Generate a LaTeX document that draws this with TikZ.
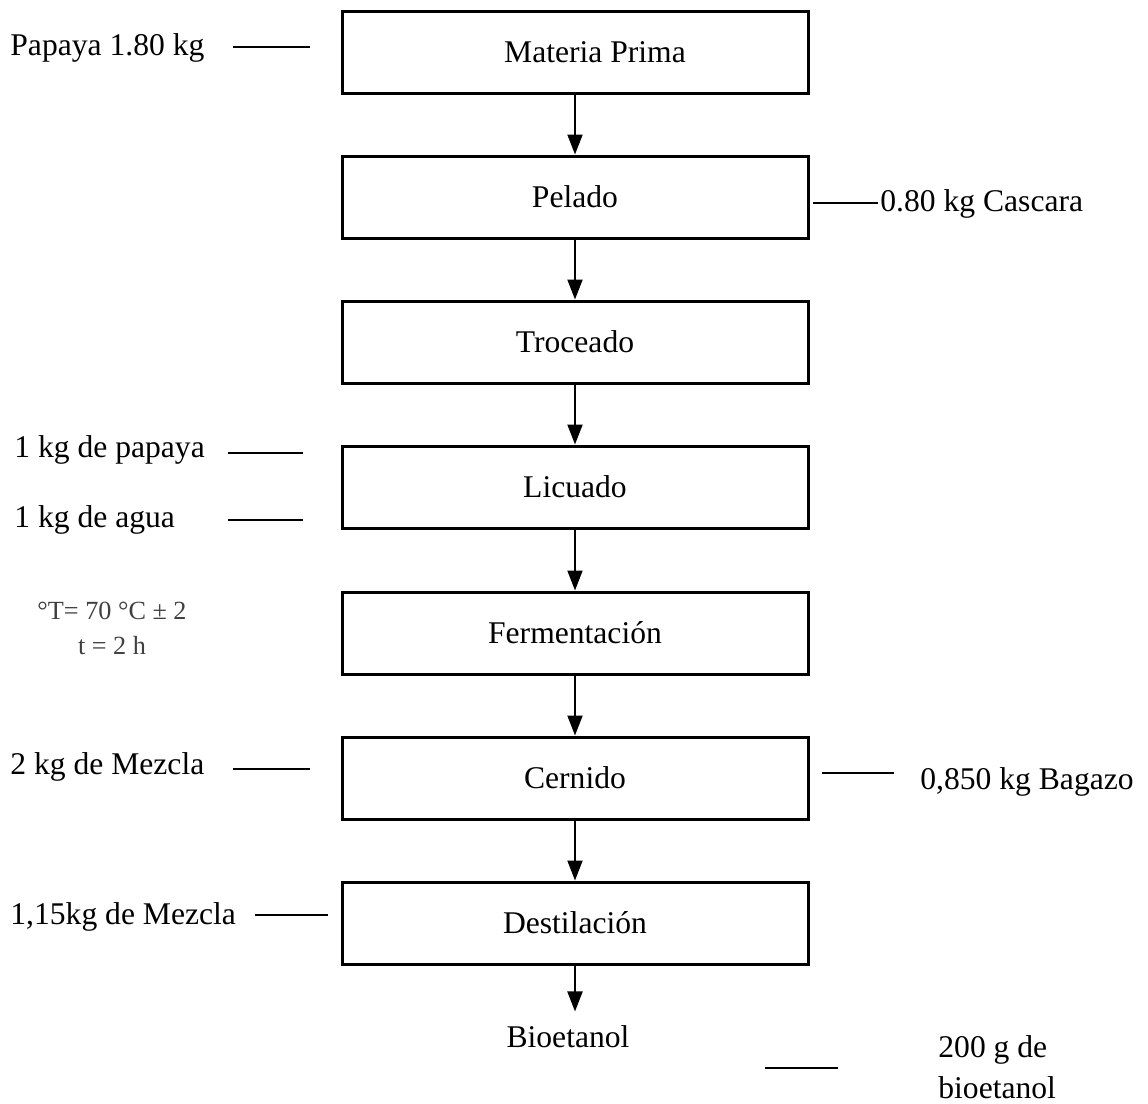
\documentclass[tikz,border=0pt]{standalone}
\usepackage{fontspec}
\setmainfont{Liberation Serif}
\usetikzlibrary{arrows.meta,positioning}

\begin{document}
\begin{tikzpicture}[x=0.5pt,y=-0.5pt,
	etapa/.style={draw,line width=1.5pt,minimum width=233pt,minimum height=41pt,inner sep=0pt,font=\fontsize{15.8}{19}\selectfont},
	flujo/.style={-{Triangle[length=10pt,width=7.5pt]},line width=1pt},
	dato/.style={font=\fontsize{15.8}{19}\selectfont,inner sep=0pt,anchor=west},
	raya/.style={line width=0.7pt}]
	\useasboundingbox (0,0) rectangle (1148,1104);
	% etapas del proceso
	\node[etapa] (materia) at (575,52) {\hspace*{20pt}Materia Prima};
	\node[etapa] (pelado) at (575,197) {Pelado};
	\node[etapa] (troceado) at (575,342) {Troceado};
	\node[etapa] (licuado) at (575,487) {Licuado};
	\node[etapa] (fermentacion) at (575,633) {Fermentación};
	\node[etapa] (cernido) at (575,778) {Cernido};
	\node[etapa] (destilacion) at (575,923) {Destilación};
	\node[font=\fontsize{15.8}{19}\selectfont,inner ysep=7pt] (bioetanol) at (568,1037) {Bioetanol};
	\draw[flujo] (materia) -- (pelado);
	\draw[flujo] (pelado) -- (troceado);
	\draw[flujo] (troceado) -- (licuado);
	\draw[flujo] (licuado) -- (fermentacion);
	\draw[flujo] (fermentacion) -- (cernido);
	\draw[flujo] (cernido) -- (destilacion);
	\draw[flujo] (destilacion.south) -- (destilacion.south |- bioetanol.north);
	% entradas y salidas
	\node[dato] (papaya) at (10,48) {Papaya 1.80 kg};
	\node[dato] (cascara) at (880,204) {0.80 kg Cascara};
	\node[dato] (papayaliq) at (14,450) {1 kg de papaya};
	\node[dato] (agua) at (14,520) {1 kg de agua};
	\node[dato] (mezcla) at (10,767) {2 kg de Mezcla};
	\node[dato] (bagazo) at (920,782) {0,850 kg Bagazo};
	\node[dato] (mezclados) at (10,917) {1,15kg de Mezcla};
	\node[dato,align=left,font=\fontsize{15.8}{20.5}\selectfont] (producto) at (938,1067) {200 g de\\bioetanol};
	\node[font=\fontsize{13.1}{17.5}\selectfont,text=black!75,align=center] (condicion) at (112,628) {°T= 70 °C ± 2\\t = 2 h};
	\coordinate (a1) at (233,47);  \coordinate (a2) at (310,47);
	\coordinate (b1) at (813,203); \coordinate (b2) at (878,203);
	\coordinate (c1) at (228,453); \coordinate (c2) at (303,453);
	\coordinate (d1) at (228,520); \coordinate (d2) at (303,520);
	\coordinate (e1) at (233,769); \coordinate (e2) at (310,769);
	\coordinate (f1) at (822,773); \coordinate (f2) at (894,773);
	\coordinate (g1) at (255,915); \coordinate (g2) at (328,915);
	\coordinate (h1) at (765,1068); \coordinate (h2) at (838,1068);
	\draw[raya] (a1) -- (a2);
	\draw[raya] (b1) -- (b2);
	\draw[raya] (c1) -- (c2);
	\draw[raya] (d1) -- (d2);
	\draw[raya] (e1) -- (e2);
	\draw[raya] (f1) -- (f2);
	\draw[raya] (g1) -- (g2);
	\draw[raya] (h1) -- (h2);
\end{tikzpicture}
\end{document}
